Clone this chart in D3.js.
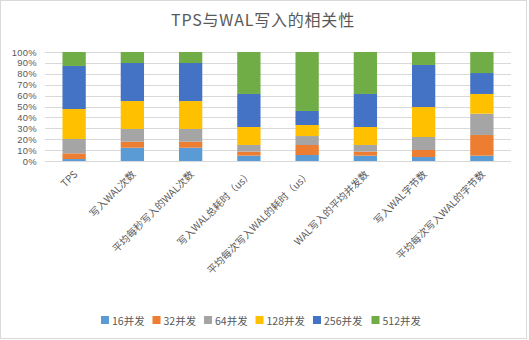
<!DOCTYPE html>
<html>
<head>
<meta charset="utf-8">
<script src="https://cdn.jsdelivr.net/npm/d3@7"></script>
<style>
  html, body { margin: 0; padding: 0; background: #fff; }
  svg { display: block; font-family: "Noto Sans CJK SC", "Noto Sans", sans-serif; }
</style>
</head>
<body>
<svg id="chart" width="529" height="340"></svg>
<script>
// Categories along the x axis
const categories = [
  "TPS",
  "写入WAL次数",
  "平均每秒写入的WAL次数",
  "写入WAL总耗时（us）",
  "平均每次写入WAL的耗时（us）",
  "WAL写入的平均并发数",
  "写入WAL字节数",
  "平均每次写入WAL的字节数"
];

// Share (%) of each concurrency level per category
const series16  = [1.8, 12.2, 12.2, 4.9, 5.5, 4.9, 3.7, 4.9];
const series32  = [5.2, 5.5, 5.5, 3.7, 9.2, 3.7, 6.4, 19.0];
const series64  = [13.2, 11.7, 11.7, 6.1, 8.2, 6.1, 11.9, 19.5];
const series128 = [27.5, 25.6, 25.6, 16.5, 10.1, 16.5, 27.5, 18.1];
const series256 = [39.5, 34.9, 34.9, 30.3, 12.9, 30.3, 38.6, 19.2];
const series512 = [12.8, 10.1, 10.1, 38.5, 54.1, 38.5, 11.9, 19.3];

const seriesNames = ["16并发", "32并发", "64并发", "128并发", "256并发", "512并发"];
const seriesColors = ["#5B9BD5", "#ED7D31", "#A5A5A5", "#FFC000", "#4472C4", "#70AD47"];
const yTicks = [0, 0.1, 0.2, 0.3, 0.4, 0.5, 0.6, 0.7, 0.8, 0.9, 1.0];

const allSeries = [series16, series32, series64, series128, series256, series512];

// Build rows for d3.stack, normalised to 100%
const rows = categories.map((c, i) => {
  const row = { category: c };
  const total = d3.sum(allSeries, s => s[i]);
  seriesNames.forEach((n, k) => { row[n] = allSeries[k][i] / total; });
  return row;
});
const stacked = d3.stack().keys(seriesNames)(rows);

const svg = d3.select("#chart");
const textColor = "#595959";
const gridColor = "#D9D9D9";

// Outer frame
svg.append("rect")
  .attr("x", 0.5).attr("y", 0.5)
  .attr("width", 526).attr("height", 338)
  .attr("fill", "#fff").attr("stroke", gridColor).attr("stroke-width", 1);

// Title
svg.append("text")
  .attr("x", 263).attr("y", 26)
  .attr("text-anchor", "middle")
  .attr("font-size", 16)
  .attr("letter-spacing", 0.8)
  .attr("fill", textColor)
  .text("TPS与WAL写入的相关性");

const x = d3.scaleBand().domain(categories).range([45, 511])
  .paddingInner(0.6).paddingOuter(0.3);
const y = d3.scaleLinear().domain([0, 1]).range([161, 52]);

// Gridlines
svg.append("g")
  .selectAll("line")
  .data(yTicks)
  .join("line")
  .attr("x1", 45).attr("x2", 511)
  .attr("y1", d => Math.round(y(d)) + 0.5)
  .attr("y2", d => Math.round(y(d)) + 0.5)
  .attr("stroke", gridColor).attr("stroke-width", 1);

// Y axis labels
const yAxis = d3.axisLeft(y).tickValues(yTicks).tickFormat(d3.format(".0%")).tickSize(0).tickPadding(0);
const gy = svg.append("g").attr("transform", "translate(37,0)").call(yAxis);
gy.select(".domain").remove();
gy.selectAll("text").attr("font-size", 9.4).attr("fill", textColor)
  .attr("font-family", "'Liberation Sans', sans-serif")
  .attr("letter-spacing", 0.3);

// Stacked bars
svg.append("g")
  .selectAll("g")
  .data(stacked)
  .join("g")
  .attr("fill", (d, i) => seriesColors[i])
  .selectAll("rect")
  .data(d => d)
  .join("rect")
  .attr("x", d => x(d.data.category))
  .attr("width", x.bandwidth())
  .attr("y", d => y(d[1]))
  .attr("height", d => y(d[0]) - y(d[1]));

// X axis labels, rotated
const xAxis = d3.axisBottom(x).tickSize(0).tickPadding(0);
const gx = svg.append("g").attr("transform", "translate(0,161)").call(xAxis);
gx.select(".domain").remove();
gx.selectAll("text")
  .attr("font-size", 10)
  .attr("fill", textColor)
  .attr("font-family", "'Noto Sans CJK SC', sans-serif")
  .attr("text-anchor", "end")
  .attr("dy", 0)
  .attr("y", 0)
  .attr("transform", "translate(4,14) rotate(-45)");

// Legend
const legendX = [101, 152.5, 204, 255.5, 313, 371.5];
const legend = svg.append("g")
  .selectAll("g")
  .data(seriesNames)
  .join("g")
  .attr("transform", (d, i) => `translate(${legendX[i]},316)`);
legend.append("rect")
  .attr("width", 8).attr("height", 8)
  .attr("fill", (d, i) => seriesColors[i]);
legend.append("text")
  .attr("x", 11).attr("y", 8.5)
  .attr("font-size", 10.5)
  .attr("fill", textColor)
  .text(d => d);
</script>
</body>
</html>
